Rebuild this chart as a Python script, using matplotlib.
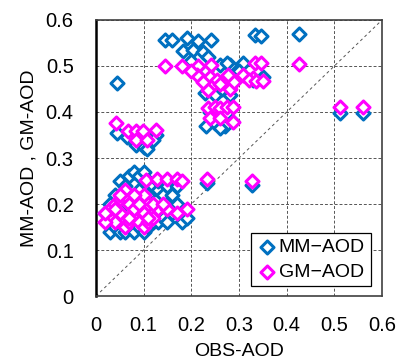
import matplotlib
matplotlib.use("Agg")
import matplotlib.pyplot as plt

plt.rcParams['font.family'] = ['Liberation Sans', 'DejaVu Sans']

# MM-AOD vs observed AOD
mm_obs = [0.03, 0.04, 0.05, 0.06, 0.07, 0.08, 0.09, 0.10, 0.11, 0.12,
          0.02, 0.03, 0.04, 0.05, 0.06, 0.07, 0.08, 0.09, 0.10, 0.11,
          0.12, 0.13, 0.14, 0.15, 0.16, 0.17, 0.18, 0.19, 0.06, 0.07,
          0.08, 0.09, 0.10, 0.11, 0.12, 0.13, 0.14, 0.15, 0.04, 0.05,
          0.16, 0.11, 0.13, 0.15, 0.17, 0.09,
          0.045, 0.065, 0.085, 0.10, 0.125, 0.108, 0.12, 0.045,
          0.145, 0.159, 0.19, 0.214, 0.242, 0.183, 0.204, 0.225, 0.235,
          0.26, 0.281, 0.274, 0.309, 0.20, 0.23, 0.228, 0.25, 0.281,
          0.24, 0.265, 0.30, 0.35, 0.33,
          0.23, 0.25, 0.27, 0.285, 0.24, 0.26,
          0.232, 0.327, 0.333, 0.347, 0.426, 0.511, 0.560]
mm_val = [0.14, 0.15, 0.14, 0.14, 0.15, 0.14, 0.15, 0.14, 0.15, 0.16,
          0.18, 0.20, 0.22, 0.25, 0.24, 0.26, 0.27, 0.26, 0.27, 0.25,
          0.24, 0.23, 0.22, 0.20, 0.18, 0.20, 0.16, 0.17, 0.18, 0.21,
          0.19, 0.17, 0.20, 0.19, 0.18, 0.16, 0.17, 0.16, 0.17, 0.19,
          0.22, 0.22, 0.25, 0.24, 0.24, 0.23,
          0.355, 0.345, 0.328, 0.325, 0.35, 0.32, 0.34, 0.462,
          0.557, 0.557, 0.56, 0.554, 0.557, 0.533, 0.535, 0.531, 0.52,
          0.502, 0.502, 0.506, 0.506, 0.51, 0.49, 0.441, 0.437, 0.437,
          0.46, 0.45, 0.49, 0.475, 0.47,
          0.37, 0.375, 0.37, 0.38, 0.40, 0.365,
          0.245, 0.241, 0.567, 0.564, 0.569, 0.397, 0.397]

# GM-AOD vs observed AOD
gm_obs = [0.03, 0.04, 0.05, 0.06, 0.07, 0.08, 0.09, 0.10, 0.11, 0.12,
          0.02, 0.03, 0.04, 0.05, 0.06, 0.07, 0.08, 0.09, 0.10, 0.11,
          0.106, 0.129, 0.15, 0.169, 0.18, 0.13, 0.15, 0.17, 0.19, 0.06,
          0.07, 0.08, 0.09, 0.10, 0.11, 0.12, 0.14, 0.04, 0.05, 0.02,
          0.043, 0.068, 0.085, 0.099, 0.127, 0.085, 0.108,
          0.145, 0.18, 0.214, 0.242, 0.211, 0.239, 0.253, 0.277, 0.309,
          0.33, 0.242, 0.281, 0.235, 0.20, 0.225, 0.26, 0.29, 0.32,
          0.335, 0.35, 0.333, 0.347, 0.426,
          0.235, 0.25, 0.26, 0.275, 0.288, 0.239, 0.26, 0.288,
          0.232, 0.327, 0.511, 0.560]
gm_val = [0.17, 0.16, 0.18, 0.15, 0.16, 0.17, 0.16, 0.15, 0.16, 0.17,
          0.16, 0.19, 0.20, 0.21, 0.22, 0.20, 0.19, 0.21, 0.22, 0.20,
          0.252, 0.254, 0.254, 0.254, 0.25, 0.19, 0.19, 0.18, 0.19, 0.23,
          0.17, 0.22, 0.20, 0.18, 0.17, 0.20, 0.20, 0.19, 0.22, 0.18,
          0.375, 0.359, 0.359, 0.359, 0.361, 0.34, 0.34,
          0.499, 0.499, 0.499, 0.502, 0.48, 0.477, 0.47, 0.48, 0.48,
          0.473, 0.455, 0.451, 0.448, 0.49, 0.465, 0.46, 0.465, 0.47,
          0.467, 0.467, 0.506, 0.506, 0.504,
          0.408, 0.41, 0.408, 0.41, 0.41, 0.387, 0.387, 0.378,
          0.254, 0.25, 0.411, 0.411]

fig = plt.figure(figsize=(3.98, 3.62), dpi=100)
ax = fig.add_axes([0.241, 0.182, 0.719, 0.763])

ax.plot([0, 0.6], [0, 0.6], color="#555555", linestyle=(0, (3, 3)), linewidth=0.7, zorder=1)

ax.scatter(mm_obs, mm_val, marker="D", s=44, facecolors="white", edgecolors="#0070C0",
           linewidths=2.2, label="MM\u2212AOD", zorder=3)
ax.scatter(gm_obs, gm_val, marker="D", s=44, facecolors="white", edgecolors="#FF00FF",
           linewidths=2.2, label="GM\u2212AOD", zorder=4)

ax.set_xlim(0, 0.6)
ax.set_ylim(0, 0.6)
ticks = [0, 0.1, 0.2, 0.3, 0.4, 0.5, 0.6]
tick_labels = ["0", "0.1", "0.2", "0.3", "0.4", "0.5", "0.6"]
ax.set_xticks(ticks)
ax.set_xticklabels(tick_labels)
ax.set_yticks(ticks)
ax.set_yticklabels(tick_labels)
ax.tick_params(axis="x", length=0, labelsize=14.5, pad=14)
ax.tick_params(axis="y", length=0, labelsize=14.5, pad=16)
ax.grid(True, color="#555555", linestyle=(0, (3, 2)), linewidth=0.7)
ax.set_axisbelow(True)

for side in ["top", "right", "bottom"]:
    ax.spines[side].set_color("#404040")
    ax.spines[side].set_linewidth(1.2)
ax.spines["left"].set_color("black")
ax.spines["left"].set_linewidth(1.8)

ax.set_xlabel("OBS-AOD", fontsize=14, labelpad=6)
ax.set_ylabel("MM-AOD , GM-AOD", fontsize=14, labelpad=6)

leg = ax.legend(loc="lower right", bbox_to_anchor=(0.96, 0.035), fontsize=14,
                fancybox=False, edgecolor="black", framealpha=1,
                handletextpad=0.1, handlelength=1.0, borderpad=0.3, labelspacing=0.35,
                borderaxespad=0)
leg.get_frame().set_linewidth(0.9)

fig.savefig("out.png", dpi=100)
